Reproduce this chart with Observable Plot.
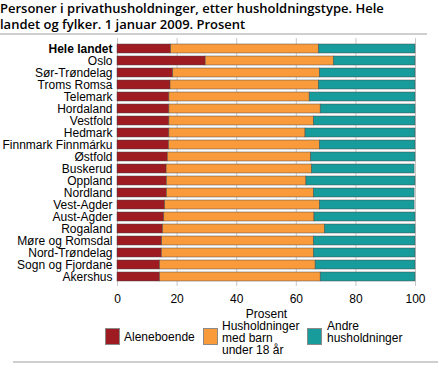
<!DOCTYPE html>
<html><head><meta charset="utf-8">
<script src="https://cdn.jsdelivr.net/npm/d3@7"></script>
<script src="https://cdn.jsdelivr.net/npm/@observablehq/plot@0.6"></script>
<style>
body{margin:0;background:#fff;}
#wrap{position:relative;width:439px;height:369px;overflow:hidden;font-family:"Liberation Sans",Arial,sans-serif;color:#000;}
#title{position:absolute;left:0;top:0;font-family:"Open Sans",sans-serif;font-weight:600;font-size:13px;line-height:16px;white-space:nowrap;}
#rule1{position:absolute;left:0;top:33px;width:427px;height:2px;background:#cfcfcf;}
#rule2{position:absolute;left:13px;top:361px;width:425px;height:2px;background:#cfcfcf;}
#chart{position:absolute;left:0;top:36px;}
.sw{position:absolute;width:13px;height:15px;border:1px solid #8a8a8a;box-sizing:content-box;}
.lt{position:absolute;font-size:12px;line-height:12px;}
</style></head>
<body>
<div id="wrap">
  <div id="title">Personer i privathusholdninger, etter husholdningstype. Hele<br>landet og fylker. 1 januar 2009. Prosent</div>
  <div id="rule1"></div>
  <div id="chart"></div>
  <div id="legend"></div>
  <div id="rule2"></div>
</div>
<script>
const regions = ["Hele landet","Oslo","Sør-Trøndelag","Troms Romsa","Telemark","Hordaland","Vestfold","Hedmark","Finnmark Finnmárku","Østfold","Buskerud","Oppland","Nordland","Vest-Agder","Aust-Agder","Rogaland","Møre og Romsdal","Nord-Trøndelag","Sogn og Fjordane","Akershus"];
const alene = [18.0,29.6,18.7,17.8,17.4,17.4,17.4,17.4,17.3,16.9,16.5,16.6,16.6,16.0,15.7,15.3,15.0,14.9,14.3,14.3];
const barn  = [49.6,43.0,49.2,49.8,47.1,50.8,48.5,45.7,50.6,48.1,48.8,46.8,49.3,51.9,50.4,54.3,50.9,51.0,52.2,53.9];
const andre = [32.4,27.4,32.1,32.4,35.5,31.8,34.1,36.9,32.1,35.0,34.4,36.6,33.8,31.8,33.9,30.4,34.1,34.1,33.5,31.8];
const types = ["Aleneboende","Husholdninger med barn under 18 år","Andre husholdninger"];
const legendLabels = [["Aleneboende"],["Husholdninger","med barn","under 18 år"],["Andre","husholdninger"]];
const colors = ["#9e1b21","#f99b3a","#179b9b"];
const xTicks = [0,20,40,60,80,100];

const data = regions.flatMap((r,i)=>[
  {region:r,type:types[0],value:alene[i]},
  {region:r,type:types[1],value:barn[i]},
  {region:r,type:types[2],value:andre[i]}
]);

const chart = Plot.plot({
  width:439, height:288,
  marginTop:2, marginLeft:117, marginRight:24, marginBottom:38,
  style:{fontFamily:"Liberation Sans, Arial, sans-serif", fontSize:"12px", color:"#000", background:"transparent"},
  x:{domain:[0,100]},
  y:{domain:regions, padding:0.27},
  color:{domain:types, range:colors},
  marks:[
    Plot.gridX(xTicks,{stroke:"#c8c8c8",strokeOpacity:1}),
    Plot.barX(data, Plot.stackX({x:"value", y:"region", fill:"type", stroke:"#4a4a4a", strokeWidth:0.6, strokeOpacity:0.8, order:types})),
    Plot.axisX({ticks:xTicks, tickSize:0, tickPadding:8, label:"Prosent", labelAnchor:"center", labelArrow:"none", labelOffset:31}),
    Plot.axisY({tickSize:0, tickPadding:5, label:null})
  ]
});
document.getElementById("chart").appendChild(chart);
chart.querySelectorAll("text").forEach(t=>{ if(t.textContent==="Hele landet") t.style.fontWeight="bold"; });

const lg = document.getElementById("legend");
const swX = [105,203,307], txX = [124,222,327];
legendLabels.forEach((lines,i)=>{
  const s=document.createElement("div"); s.className="sw";
  s.style.left=swX[i]+"px"; s.style.top="328px"; s.style.background=colors[i];
  lg.appendChild(s);
  const t=document.createElement("div"); t.className="lt";
  t.style.left=txX[i]+"px";
  t.style.top=(lines.length===1?331:320)+"px";
  t.innerHTML=lines.join("<br>");
  lg.appendChild(t);
});
</script>
</body></html>
